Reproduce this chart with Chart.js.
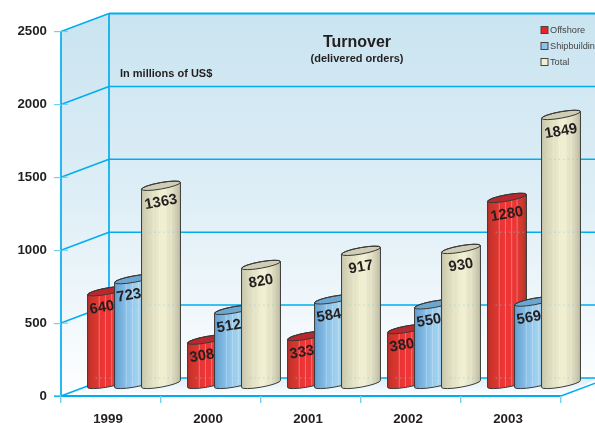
<!DOCTYPE html>
<html>
<head>
<meta charset="utf-8">
<style>
  html, body { margin: 0; padding: 0; background: #fff; }
  #wrap { position: relative; width: 595px; height: 423px; overflow: hidden; }
</style>
<script src="https://cdn.jsdelivr.net/npm/chart.js@4"></script>
</head>
<body>
<div id="wrap"><canvas id="myChart" width="595" height="423"></canvas></div>
<script>
const years = ["1999", "2000", "2001", "2002", "2003"];
const offshore = [640, 308, 333, 380, 1280];
const shipbuilding = [723, 512, 584, 550, 569];
const total = [1363, 820, 917, 930, 1849];
const yTicks = [0, 500, 1000, 1500, 2000, 2500];

const FONT = '"Liberation Sans", Arial, sans-serif';
const INK = "#231f20";
const CYAN = "#00aeef";
// Depth of the box, the bars stand half way in
const DEPTH_X = 48, DEPTH_Y = -18;
const BAR_X = 23, BAR_Y = -8;
const TILT = Math.atan(7 / 39);

const looks = [
  { swatch: "#ed2224", cap: "#b8282e", stripe: "rgba(255,200,190,.55)",
    stops: [[0, "#b9302a"], [.14, "#d2352c"], [.4, "#ee3535"], [.7, "#ee3535"], [.88, "#cf3a2e"], [1, "#a8342c"]] },
  { swatch: "#8cc3ea", cap: "#6ea6d2", stripe: "rgba(215,238,250,.55)",
    stops: [[0, "#639fd1"], [.3, "#88bfe7"], [.6, "#a5d3f0"], [.85, "#88bfe7"], [1, "#659fce"]] },
  { swatch: "#f3f0d0", cap: "#cfcdb5", stripe: "rgba(255,255,240,.35)",
    stops: [[0, "#c9c7ac"], [.2, "#dcdabd"], [.55, "#f3f1d3"], [.8, "#dedcc0"], [1, "#bdbba3"]] }
];

function text(ctx, str, x, y, font, color, align) {
  ctx.font = font;
  ctx.fillStyle = color;
  ctx.textAlign = align || "left";
  ctx.textBaseline = "middle";
  ctx.fillText(str, x, y);
}

function line(ctx, x1, y1, x2, y2, width, color) {
  ctx.beginPath();
  ctx.moveTo(x1, y1);
  ctx.lineTo(x2, y2);
  ctx.lineWidth = width;
  ctx.strokeStyle = color || CYAN;
  ctx.stroke();
}

function polygon(ctx, pts, fill) {
  ctx.beginPath();
  pts.forEach(function (p, i) { i ? ctx.lineTo(p[0], p[1]) : ctx.moveTo(p[0], p[1]); });
  ctx.closePath();
  ctx.fillStyle = fill;
  ctx.fill();
}

// The box behind the bars: side wall, back wall, floor
function drawBox(chart) {
  const ctx = chart.ctx, y = chart.scales.y, a = chart.chartArea;
  const L = a.left, R = a.right, W = chart.width;
  const y0 = y.getPixelForValue(0), yTop = y.getPixelForValue(2500);
  const backL = L + DEPTH_X;

  const wall = ctx.createLinearGradient(0, yTop + DEPTH_Y, 0, y0 + DEPTH_Y);
  wall.addColorStop(0, "#c9e4f0");
  wall.addColorStop(.5, "#deeef6");
  wall.addColorStop(1, "#fbfdfe");
  polygon(ctx, [[L, yTop], [backL, yTop + DEPTH_Y], [W, yTop + DEPTH_Y], [W, y0 + DEPTH_Y], [backL, y0 + DEPTH_Y], [L, y0]], wall);

  const floor = ctx.createLinearGradient(0, y0 + DEPTH_Y, 0, y0);
  floor.addColorStop(0, "#dbeef6");
  floor.addColorStop(1, "#ffffff");
  polygon(ctx, [[L, y0], [backL, y0 + DEPTH_Y], [W, y0 + DEPTH_Y], [W, y0 + DEPTH_Y + 2], [R, y0]], floor);

  yTicks.forEach(function (v) {
    const py = y.getPixelForValue(v);
    line(ctx, L, py, backL, py + DEPTH_Y, 1.6);
    line(ctx, backL, py + DEPTH_Y, W, py + DEPTH_Y, v === 2500 ? 1.9 : 1.5);
    line(ctx, L, py, L + 7, py, 1.2, "#6fd0f3");
  });
  line(ctx, L, yTop, L, y0, 1.7);
  line(ctx, backL, yTop + DEPTH_Y, backL, y0 + DEPTH_Y, 1.7);
  line(ctx, R, y0, R + DEPTH_X, y0 + DEPTH_Y, 1.6);
  line(ctx, L - 7, y0, R, y0, 1.8);
}

function bodyPath(ctx, x, top, bottom, rx, ry) {
  ctx.beginPath();
  ctx.ellipse(x, bottom, rx, ry, -TILT, 0, Math.PI);
  ctx.ellipse(x, top, rx, ry, -TILT, Math.PI, Math.PI * 2);
  ctx.closePath();
}

function drawCylinder(chart, bar, look) {
  const ctx = chart.ctx;
  const x = bar.x + BAR_X, w = bar.width;
  const rx = (w / 2) / Math.cos(TILT), ry = 3.2;
  const lift = (w / 2) * Math.tan(TILT);
  const top = bar.y + BAR_Y - lift, bottom = bar.base + BAR_Y - lift;

  const grad = ctx.createLinearGradient(x - w / 2, 0, x + w / 2, 0);
  look.stops.forEach(function (s) { grad.addColorStop(s[0], s[1]); });

  bodyPath(ctx, x, top, bottom, rx, ry);
  ctx.fillStyle = grad;
  ctx.fill();

  // Thin light ribs down the body
  ctx.save();
  ctx.clip();
  [.3, .46, .62, .76].forEach(function (f) {
    line(ctx, x - w / 2 + w * f, top, x - w / 2 + w * f, bottom + 4, .8, look.stripe);
  });
  ctx.setLineDash([1.5, 3]);
  yTicks.forEach(function (v) {
    const py = chart.scales.y.getPixelForValue(v) + DEPTH_Y;
    line(ctx, x - w / 2 + 8, py, x + w / 2, py, 1, "rgba(120,205,235,.55)");
  });
  ctx.restore();

  ctx.beginPath();
  ctx.ellipse(x, top, rx, ry, -TILT, 0, Math.PI * 2);
  ctx.fillStyle = look.cap;
  ctx.fill();

  ctx.lineWidth = 1;
  ctx.strokeStyle = "#3a3a38";
  ctx.stroke();
  bodyPath(ctx, x, top, bottom, rx, ry);
  ctx.stroke();
}

const cylinders = {
  id: "cylinders",
  beforeDraw: drawBox,
  // The library's flat bars are replaced by the cylinders below
  beforeDatasetDraw: function () { return false; },
  afterDatasetsDraw: function (chart) {
    const ctx = chart.ctx;
    const metas = chart.data.datasets.map(function (d, i) { return chart.getDatasetMeta(i); });
    metas.forEach(function (meta, i) {
      meta.data.forEach(function (bar) { drawCylinder(chart, bar, looks[i]); });
    });
    // Value labels follow the tilt of the caps
    metas.forEach(function (meta, i) {
      meta.data.forEach(function (bar, j) {
        const next = metas[i + 1] ? metas[i + 1].data[j] : null;
        const covered = next && next.y < bar.y + 12;
        ctx.save();
        ctx.translate(bar.x + BAR_X + (covered ? -5 : 0), bar.y + BAR_Y + 13);
        ctx.rotate(-TILT);
        text(ctx, String(chart.data.datasets[i].data[j]), 0, 0, "bold 14.8px " + FONT, INK, "center");
        ctx.restore();
      });
    });

    text(ctx, "Turnover", 357, 42.5, "bold 16px " + FONT, INK, "center");
    text(ctx, "(delivered orders)", 357, 59, "bold 11px " + FONT, INK, "center");
    text(ctx, "In millions of US$", 120, 74, "bold 11px " + FONT, INK);

    chart.data.datasets.forEach(function (d, i) {
      const ly = 30 + i * 16;
      ctx.fillStyle = looks[i].swatch;
      ctx.fillRect(541, ly - 3.5, 7, 7);
      ctx.lineWidth = 1;
      ctx.strokeStyle = "#444";
      ctx.strokeRect(541, ly - 3.5, 7, 7);
      text(ctx, d.label, 550, ly, "9.2px " + FONT, "#444");
    });
  }
};

new Chart(document.getElementById("myChart"), {
  type: "bar",
  data: {
    labels: years,
    datasets: [
      { label: "Offshore", data: offshore, backgroundColor: looks[0].swatch },
      { label: "Shipbuilding", data: shipbuilding, backgroundColor: looks[1].swatch },
      { label: "Total", data: total, backgroundColor: looks[2].swatch }
    ]
  },
  options: {
    responsive: false,
    animation: false,
    layout: { padding: { top: 31.5, right: 34, bottom: 0, left: 0 } },
    plugins: { legend: { display: false }, title: { display: false }, tooltip: { enabled: false } },
    datasets: { bar: { categoryPercentage: 0.81, barPercentage: 1.44 } },
    scales: {
      x: {
        afterFit: function (scale) { scale.height = 27; },
        border: { display: false },
        grid: { drawOnChartArea: false, tickLength: 7, color: "#6fd0f3", lineWidth: 1.4 },
        ticks: { color: INK, font: { family: FONT, size: 13.3, weight: "bold" }, padding: 8, labelOffset: -3, maxRotation: 0 }
      },
      y: {
        min: 0,
        max: 2500,
        afterFit: function (scale) { scale.width = 61; },
        border: { display: false },
        grid: { drawOnChartArea: false, tickLength: 7, color: "#6fd0f3", lineWidth: 1.2 },
        ticks: {
          stepSize: 500,
          color: INK,
          font: { family: FONT, size: 13.3, weight: "bold" },
          padding: 7,
          callback: function (v) { return String(v); }
        }
      }
    }
  },
  plugins: [cylinders]
});
</script>
</body>
</html>
